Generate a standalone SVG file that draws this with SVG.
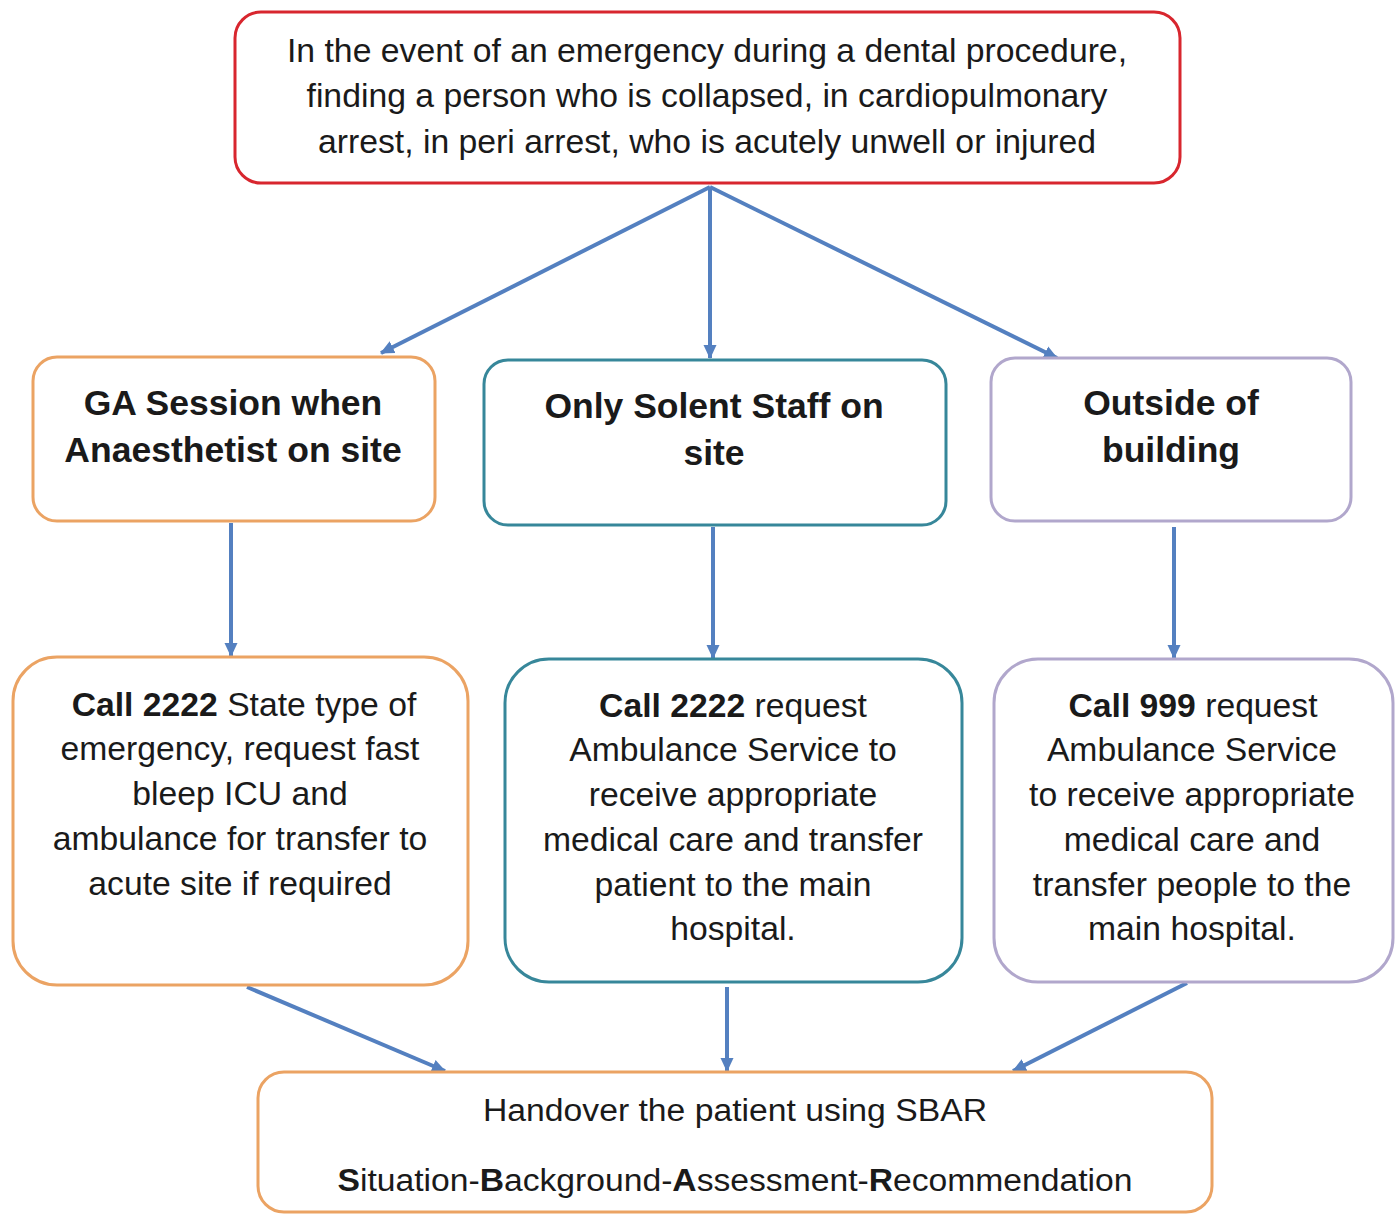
<svg xmlns="http://www.w3.org/2000/svg" width="1399" height="1215" viewBox="0 0 1399 1215">
<style>
.box{fill:#ffffff;stroke-width:3}
.red{stroke:#d8262e}
.org{stroke:#eba363}
.teal{stroke:#37879a}
.lav{stroke:#b1a7cc}
.t{font-family:"Liberation Sans",Arial,sans-serif;fill:#1a1a1a;text-anchor:middle}
.n{font-size:33.7px}
.h{font-size:35.5px;font-weight:bold}
.c{font-size:34px}
.d{font-size:31px}
.b{font-weight:bold}
.conn{stroke:#5480c0;stroke-width:4;fill:none;marker-end:url(#ah)}
</style>
<defs>
<marker id="ah" markerUnits="userSpaceOnUse" markerWidth="15" markerHeight="15" viewBox="0 0 15 15" refX="13" refY="7.5" orient="auto">
<path d="M0,1 L14,7.5 L0,14 z" fill="#5480c0"/>
</marker>
</defs>
<rect width="1399" height="1215" fill="#ffffff"/>
<g id="connectors">
<line class="conn" x1="710" y1="187" x2="381" y2="353"/>
<line class="conn" x1="710" y1="187" x2="710" y2="358"/>
<line class="conn" x1="710" y1="187" x2="1057" y2="358"/>
<line class="conn" x1="231" y1="523" x2="231" y2="656"/>
<line class="conn" x1="713" y1="527" x2="713" y2="658"/>
<line class="conn" x1="1174" y1="527" x2="1174" y2="658"/>
<line class="conn" x1="247" y1="987" x2="445" y2="1071"/>
<line class="conn" x1="727" y1="987" x2="727" y2="1071"/>
<line class="conn" x1="1187" y1="983" x2="1013" y2="1071"/>
</g>
<g id="start">
<rect class="box red" x="235" y="12" width="945" height="171" rx="26"/>
<text class="t c" x="707" y="62" textLength="840" lengthAdjust="spacingAndGlyphs">In the event of an emergency during a dental procedure,</text>
<text class="t c" x="707" y="107" textLength="801" lengthAdjust="spacingAndGlyphs">finding a person who is collapsed, in cardiopulmonary</text>
<text class="t c" x="707" y="153" textLength="778" lengthAdjust="spacingAndGlyphs">arrest, in peri arrest, who is acutely unwell or injured</text>
</g>
<g id="ga-session">
<rect class="box org" x="33" y="357" width="402" height="164" rx="24"/>
<text class="t h" x="233" y="415">GA Session when</text>
<text class="t h" x="233" y="462">Anaesthetist on site</text>
</g>
<g id="solent-staff">
<rect class="box teal" x="484" y="360" width="462" height="165" rx="24"/>
<text class="t h" x="714" y="418">Only Solent Staff on</text>
<text class="t h" x="714" y="465">site</text>
</g>
<g id="outside">
<rect class="box lav" x="991" y="358" width="360" height="163" rx="24"/>
<text class="t h" x="1171" y="415">Outside of</text>
<text class="t h" x="1171" y="462">building</text>
</g>
<g id="call-2222-ga">
<rect class="box org" x="13" y="657" width="455" height="328" rx="44"/>
<text class="t n" x="244" y="716"><tspan class="b">Call 2222</tspan> State type of</text>
<text class="t n" x="240" y="760">emergency, request fast</text>
<text class="t n" x="240" y="805">bleep ICU and</text>
<text class="t n" x="240" y="850">ambulance for transfer to</text>
<text class="t n" x="240" y="895">acute site if required</text>
</g>
<g id="call-2222-solent">
<rect class="box teal" x="505" y="659" width="457" height="323" rx="44"/>
<text class="t n" x="733" y="717"><tspan class="b">Call 2222</tspan> request</text>
<text class="t n" x="733" y="761">Ambulance Service to</text>
<text class="t n" x="733" y="806">receive appropriate</text>
<text class="t n" x="733" y="851">medical care and transfer</text>
<text class="t n" x="733" y="896">patient to the main</text>
<text class="t n" x="733" y="940">hospital.</text>
</g>
<g id="call-999">
<rect class="box lav" x="994" y="659" width="399" height="323" rx="44"/>
<text class="t n" x="1193" y="717"><tspan class="b">Call 999</tspan> request</text>
<text class="t n" x="1192" y="761">Ambulance Service</text>
<text class="t n" x="1192" y="806">to receive appropriate</text>
<text class="t n" x="1192" y="851">medical care and</text>
<text class="t n" x="1192" y="896">transfer people to the</text>
<text class="t n" x="1192" y="940">main hospital.</text>
</g>
<g id="handover">
<rect class="box org" x="258" y="1072" width="954" height="140" rx="26"/>
<text class="t d" x="735" y="1121" textLength="504" lengthAdjust="spacingAndGlyphs">Handover the patient using SBAR</text>
<text class="t d" x="735" y="1191" textLength="795" lengthAdjust="spacingAndGlyphs"><tspan class="b">S</tspan>ituation-<tspan class="b">B</tspan>ackground-<tspan class="b">A</tspan>ssessment-<tspan class="b">R</tspan>ecommendation</text>
</g>
</svg>
